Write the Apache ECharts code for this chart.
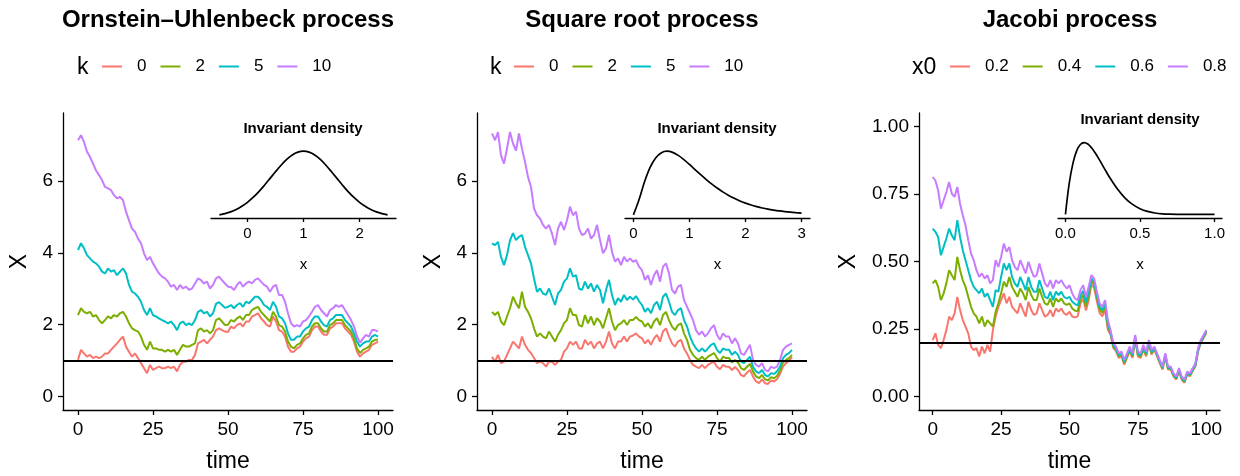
<!DOCTYPE html>
<html>
<head>
<meta charset="utf-8">
<script src="https://cdn.jsdelivr.net/npm/echarts@6/dist/echarts.min.js"></script>
<style>
html, body { margin: 0; padding: 0; background: #fff; }
#chart { width: 1240px; height: 476px; }
</style>
</head>
<body>
<div id="chart"></div>
<script>
// time grid of the simulated paths
var TIME = Array.from({ length: 101 }, function (_, i) { return i; });
var TIME_TICKS = [0, 25, 50, 75, 100];

// Ornstein-Uhlenbeck paths, legend k
var OU_NAMES = ['0', '2', '5', '10'];
var ou0 = [1.02, 1.30, 1.20, 1.11, 1.16, 1.07, 1.11, 1.07, 1.11, 1.20,
  1.20, 1.30, 1.39, 1.48, 1.58, 1.67, 1.39, 1.25, 1.11, 1.20,
  1.07, 0.93, 0.79, 0.65, 0.88, 0.74, 0.79, 0.83, 0.79, 0.79,
  0.83, 0.79, 0.83, 0.70, 0.88, 0.97, 0.97, 1.02, 1.02, 1.16,
  1.48, 1.53, 1.58, 1.48, 1.58, 1.67, 1.85, 1.90, 1.85, 1.81,
  1.80, 1.95, 1.90, 1.99, 2.04, 1.95, 2.09, 2.09, 2.23, 2.27,
  2.32, 2.18, 2.09, 1.99, 1.95, 2.23, 2.09, 1.85, 1.81, 1.67,
  1.39, 1.25, 1.25, 1.34, 1.39, 1.53, 1.62, 1.67, 1.85, 1.95,
  1.95, 1.81, 1.72, 1.72, 1.90, 1.95, 2.04, 2.04, 2.04, 1.90,
  1.81, 1.72, 1.53, 1.25, 1.11, 1.20, 1.25, 1.30, 1.44, 1.48,
  1.53];
var ou2 = [2.27, 2.46, 2.36, 2.32, 2.36, 2.23, 2.27, 2.13, 2.04, 2.13,
  2.23, 2.18, 2.27, 2.23, 2.32, 2.36, 2.23, 2.04, 1.90, 1.85,
  1.81, 1.67, 1.44, 1.30, 1.53, 1.34, 1.34, 1.30, 1.30, 1.25,
  1.30, 1.25, 1.30, 1.16, 1.30, 1.44, 1.39, 1.39, 1.44, 1.48,
  1.85, 1.90, 1.81, 1.85, 1.76, 1.85, 2.13, 2.18, 2.09, 1.99,
  2.00, 2.13, 2.09, 2.18, 2.23, 2.13, 2.27, 2.27, 2.41, 2.46,
  2.50, 2.36, 2.27, 2.18, 2.09, 2.36, 2.23, 1.99, 1.95, 1.81,
  1.53, 1.39, 1.34, 1.44, 1.48, 1.62, 1.72, 1.76, 1.95, 2.04,
  2.04, 1.90, 1.81, 1.81, 1.99, 2.04, 2.13, 2.13, 2.13, 1.99,
  1.90, 1.81, 1.62, 1.34, 1.21, 1.30, 1.34, 1.39, 1.53, 1.58,
  1.58];
var ou5 = [4.08, 4.27, 4.13, 3.94, 3.85, 3.76, 3.71, 3.62, 3.48, 3.43,
  3.57, 3.48, 3.52, 3.38, 3.48, 3.57, 3.43, 3.11, 2.92, 2.87,
  2.78, 2.64, 2.41, 2.27, 2.46, 2.27, 2.23, 2.18, 2.13, 2.09,
  2.04, 2.09, 1.99, 1.85, 2.04, 2.09, 1.99, 2.04, 1.99, 2.13,
  2.36, 2.41, 2.32, 2.36, 2.23, 2.32, 2.58, 2.63, 2.55, 2.47,
  2.50, 2.55, 2.46, 2.55, 2.60, 2.50, 2.64, 2.60, 2.69, 2.78,
  2.78, 2.69, 2.55, 2.50, 2.41, 2.64, 2.50, 2.23, 2.18, 2.04,
  1.76, 1.58, 1.58, 1.67, 1.67, 1.81, 1.90, 1.95, 2.13, 2.23,
  2.23, 2.09, 1.99, 1.95, 2.13, 2.18, 2.27, 2.27, 2.27, 2.13,
  2.04, 1.95, 1.76, 1.53, 1.39, 1.48, 1.53, 1.53, 1.67, 1.72,
  1.67];
var ou10 = [7.14, 7.28, 7.09, 6.82, 6.68, 6.49, 6.30, 6.17, 6.03, 5.84,
  5.80, 5.75, 5.61, 5.52, 5.56, 5.47, 5.15, 4.91, 4.68, 4.59,
  4.40, 4.27, 3.99, 3.80, 3.89, 3.71, 3.57, 3.43, 3.34, 3.29,
  3.20, 3.06, 3.11, 2.97, 3.11, 3.01, 3.06, 2.97, 3.01, 3.15,
  3.29, 3.24, 3.15, 3.20, 3.01, 3.11, 3.29, 3.34, 3.24, 3.15,
  3.06, 3.05, 2.97, 3.11, 3.20, 3.06, 3.15, 3.20, 3.15, 3.25,
  3.29, 3.20, 3.11, 3.06, 2.92, 3.06, 3.11, 2.83, 2.83, 2.64,
  2.32, 2.04, 1.95, 1.99, 1.95, 2.09, 2.13, 2.23, 2.36, 2.50,
  2.55, 2.41, 2.32, 2.23, 2.41, 2.46, 2.55, 2.50, 2.55, 2.41,
  2.27, 2.13, 1.95, 1.68, 1.50, 1.62, 1.72, 1.67, 1.85, 1.85,
  1.81];

// square root paths, legend k
var SQ_NAMES = ['0', '2', '5', '10'];
var sq0 = [1.11, 0.97, 1.16, 0.93, 0.97, 1.16, 1.34, 1.53, 1.44, 1.34,
  1.67, 1.44, 1.30, 1.21, 1.07, 0.93, 0.97, 0.93, 0.83, 0.97,
  0.97, 0.88, 0.97, 1.02, 1.25, 1.34, 1.53, 1.44, 1.53, 1.34,
  1.34, 1.58, 1.44, 1.53, 1.34, 1.48, 1.53, 1.34, 1.53, 1.81,
  1.48, 1.34, 1.53, 1.53, 1.67, 1.53, 1.67, 1.70, 1.76, 1.67,
  1.62, 1.48, 1.58, 1.44, 1.62, 1.72, 1.53, 1.81, 1.90, 1.67,
  1.48, 1.39, 1.53, 1.58, 1.34, 1.20, 1.02, 0.88, 0.83, 0.79,
  0.88, 0.79, 0.88, 0.93, 0.97, 0.83, 0.76, 0.88, 0.83, 0.83,
  0.74, 0.82, 0.74, 0.60, 0.56, 0.67, 0.74, 0.56, 0.42, 0.37,
  0.48, 0.37, 0.35, 0.45, 0.42, 0.48, 0.63, 0.83, 0.93, 1.00,
  1.09];
var sq2 = [2.36, 2.27, 2.36, 2.09, 1.99, 2.23, 2.46, 2.78, 2.60, 2.46,
  2.92, 2.50, 2.36, 2.18, 1.90, 1.67, 1.76, 1.67, 1.62, 1.81,
  1.67, 1.53, 1.72, 1.85, 2.04, 2.13, 2.46, 2.27, 2.27, 1.99,
  1.95, 2.27, 2.04, 2.23, 1.99, 2.18, 2.09, 1.90, 2.18, 2.46,
  2.09, 1.85, 1.99, 2.04, 2.13, 1.99, 2.13, 2.13, 2.22, 2.13,
  2.09, 1.95, 2.04, 1.90, 2.09, 2.18, 1.99, 2.27, 2.36, 2.13,
  1.95, 1.85, 1.99, 2.04, 1.76, 1.58, 1.30, 1.16, 1.07, 1.02,
  1.11, 1.02, 1.11, 1.16, 1.21, 1.07, 0.97, 1.11, 1.07, 1.07,
  0.95, 1.02, 0.95, 0.79, 0.74, 0.83, 0.91, 0.70, 0.56, 0.51,
  0.60, 0.48, 0.45, 0.54, 0.51, 0.57, 0.72, 0.95, 1.02, 1.07,
  1.16];
var sq5 = [4.27, 4.22, 4.31, 3.89, 3.66, 3.94, 4.35, 4.55, 4.36, 4.45,
  4.50, 4.17, 3.94, 3.71, 3.29, 2.92, 3.01, 2.87, 2.83, 3.01,
  2.78, 2.55, 2.87, 2.97, 3.20, 3.29, 3.57, 3.34, 3.38, 3.01,
  2.97, 3.20, 3.01, 3.15, 2.92, 3.11, 2.97, 2.60, 2.97, 3.25,
  2.83, 2.55, 2.74, 2.64, 2.83, 2.69, 2.78, 2.70, 2.80, 2.66,
  2.55, 2.36, 2.46, 2.32, 2.55, 2.64, 2.41, 2.78, 2.87, 2.64,
  2.36, 2.27, 2.41, 2.46, 2.13, 1.95, 1.67, 1.48, 1.34, 1.25,
  1.34, 1.25, 1.34, 1.44, 1.48, 1.30, 1.21, 1.34, 1.30, 1.30,
  1.16, 1.25, 1.16, 0.97, 0.93, 1.02, 1.11, 0.83, 0.70, 0.65,
  0.74, 0.60, 0.56, 0.65, 0.63, 0.70, 0.83, 1.07, 1.16, 1.21,
  1.30];
var sq10 = [7.33, 7.14, 7.37, 6.72, 6.49, 6.91, 7.37, 7.05, 6.85, 7.33,
  6.90, 6.54, 6.12, 5.84, 5.24, 5.05, 4.96, 4.78, 4.68, 4.78,
  4.54, 4.22, 4.68, 4.87, 4.64, 4.91, 5.29, 5.05, 5.15, 4.68,
  4.50, 4.54, 4.68, 4.40, 4.50, 4.78, 4.36, 3.99, 4.13, 4.50,
  4.03, 3.76, 3.85, 3.66, 3.89, 3.76, 3.85, 3.75, 3.80, 3.62,
  3.52, 3.25, 3.38, 3.11, 3.38, 3.52, 3.20, 3.62, 3.71, 3.43,
  2.97, 2.87, 3.06, 3.11, 2.69, 2.50, 2.32, 2.13, 1.85, 1.72,
  1.81, 1.67, 1.76, 1.90, 1.99, 1.72, 1.58, 1.76, 1.67, 1.67,
  1.48, 1.62, 1.48, 1.20, 1.16, 1.30, 1.44, 1.02, 0.88, 0.83,
  0.93, 0.74, 0.70, 0.83, 0.79, 0.83, 1.02, 1.30, 1.39, 1.44,
  1.48];

// Jacobi paths, legend x0
var JAC_NAMES = ['0.2', '0.4', '0.6', '0.8'];
var jac02 = [0.209, 0.234, 0.191, 0.179, 0.209, 0.246, 0.296, 0.283, 0.308, 0.369,
  0.320, 0.283, 0.259, 0.234, 0.185, 0.172, 0.179, 0.148, 0.185, 0.160,
  0.191, 0.166, 0.246, 0.296, 0.332, 0.357, 0.382, 0.345, 0.369, 0.332,
  0.320, 0.308, 0.345, 0.320, 0.296, 0.351, 0.320, 0.302, 0.308, 0.345,
  0.320, 0.296, 0.302, 0.320, 0.296, 0.326, 0.314, 0.326, 0.308, 0.302,
  0.314, 0.296, 0.293, 0.297, 0.344, 0.362, 0.319, 0.356, 0.415, 0.402,
  0.353, 0.310, 0.297, 0.322, 0.248, 0.229, 0.180, 0.168, 0.143, 0.149,
  0.118, 0.143, 0.168, 0.143, 0.211, 0.149, 0.143, 0.174, 0.149, 0.192,
  0.155, 0.174, 0.149, 0.124, 0.100, 0.149, 0.100, 0.100, 0.075, 0.063,
  0.094, 0.063, 0.051, 0.081, 0.075, 0.094, 0.112, 0.168, 0.198, 0.217,
  0.235];
var jac04 = [0.419, 0.431, 0.406, 0.357, 0.382, 0.419, 0.468, 0.449, 0.431, 0.517,
  0.468, 0.431, 0.406, 0.369, 0.332, 0.308, 0.296, 0.271, 0.296, 0.259,
  0.283, 0.271, 0.259, 0.314, 0.345, 0.382, 0.425, 0.406, 0.443, 0.406,
  0.388, 0.369, 0.400, 0.382, 0.357, 0.406, 0.376, 0.357, 0.357, 0.400,
  0.369, 0.345, 0.339, 0.363, 0.332, 0.363, 0.351, 0.363, 0.345, 0.339,
  0.345, 0.326, 0.318, 0.317, 0.359, 0.377, 0.334, 0.371, 0.428, 0.415,
  0.366, 0.323, 0.310, 0.335, 0.261, 0.234, 0.185, 0.173, 0.148, 0.154,
  0.123, 0.148, 0.173, 0.148, 0.216, 0.154, 0.148, 0.179, 0.154, 0.197,
  0.160, 0.177, 0.152, 0.127, 0.103, 0.152, 0.103, 0.103, 0.078, 0.066,
  0.097, 0.066, 0.054, 0.084, 0.078, 0.097, 0.115, 0.171, 0.201, 0.220,
  0.238];
var jac06 = [0.622, 0.610, 0.591, 0.523, 0.554, 0.585, 0.622, 0.597, 0.579, 0.653,
  0.591, 0.542, 0.505, 0.468, 0.431, 0.406, 0.394, 0.382, 0.400, 0.369,
  0.382, 0.357, 0.332, 0.394, 0.388, 0.443, 0.493, 0.468, 0.493, 0.443,
  0.419, 0.406, 0.443, 0.419, 0.394, 0.443, 0.406, 0.388, 0.388, 0.431,
  0.400, 0.369, 0.363, 0.388, 0.357, 0.388, 0.376, 0.388, 0.369, 0.363,
  0.369, 0.351, 0.343, 0.337, 0.374, 0.392, 0.349, 0.386, 0.438, 0.425,
  0.376, 0.333, 0.320, 0.345, 0.271, 0.239, 0.190, 0.178, 0.153, 0.159,
  0.128, 0.153, 0.178, 0.153, 0.221, 0.159, 0.153, 0.184, 0.159, 0.202,
  0.165, 0.180, 0.155, 0.130, 0.106, 0.155, 0.106, 0.106, 0.081, 0.069,
  0.100, 0.069, 0.057, 0.087, 0.081, 0.100, 0.118, 0.174, 0.204, 0.223,
  0.242];
var jac08 = [0.813, 0.800, 0.763, 0.696, 0.727, 0.757, 0.794, 0.751, 0.739, 0.776,
  0.714, 0.671, 0.634, 0.579, 0.530, 0.505, 0.468, 0.443, 0.456, 0.437,
  0.449, 0.419, 0.431, 0.505, 0.480, 0.517, 0.566, 0.536, 0.554, 0.505,
  0.480, 0.468, 0.505, 0.480, 0.456, 0.499, 0.468, 0.443, 0.449, 0.493,
  0.456, 0.419, 0.406, 0.431, 0.400, 0.431, 0.419, 0.431, 0.413, 0.400,
  0.412, 0.382, 0.363, 0.357, 0.394, 0.412, 0.369, 0.406, 0.450, 0.437,
  0.388, 0.345, 0.332, 0.357, 0.283, 0.246, 0.197, 0.185, 0.160, 0.166,
  0.135, 0.160, 0.185, 0.160, 0.228, 0.166, 0.160, 0.191, 0.166, 0.209,
  0.172, 0.185, 0.160, 0.135, 0.111, 0.160, 0.111, 0.111, 0.086, 0.074,
  0.105, 0.074, 0.062, 0.092, 0.086, 0.105, 0.123, 0.179, 0.209, 0.228,
  0.246];

// long-run levels (black lines)
var LEVELS = [1, 1, 0.2];

// invariant densities for the insets (relative heights)
var OU_DX = [-0.5, -0.4, -0.3, -0.2, -0.1, 0, 0.1, 0.2, 0.3, 0.4, 0.5, 0.6, 0.7, 0.8, 0.9, 1.0,
  1.1, 1.2, 1.3, 1.4, 1.5, 1.6, 1.7, 1.8, 1.9, 2.0, 2.1, 2.2, 2.3, 2.4, 2.5];
var OU_DY = [0.034, 0.053, 0.079, 0.115, 0.163, 0.223, 0.297, 0.383, 0.480, 0.583, 0.687, 0.787, 0.874, 0.942, 0.985, 1.000,
  0.985, 0.942, 0.874, 0.787, 0.687, 0.583, 0.480, 0.383, 0.297, 0.223, 0.163, 0.115, 0.079, 0.053, 0.034];
var SQ_DX = [0, 0.1, 0.2, 0.3, 0.4, 0.5, 0.6, 0.7, 0.8, 0.9, 1.0, 1.1, 1.2, 1.3, 1.4, 1.5,
  1.6, 1.7, 1.8, 1.9, 2.0, 2.1, 2.2, 2.3, 2.4, 2.5, 2.6, 2.7, 2.8, 2.9, 3.0];
var SQ_DY = [0, 0.237, 0.523, 0.749, 0.897, 0.977, 1.000, 0.981, 0.934, 0.868, 0.792, 0.711, 0.631, 0.554, 0.482, 0.417,
  0.357, 0.305, 0.259, 0.218, 0.184, 0.154, 0.129, 0.107, 0.089, 0.074, 0.061, 0.050, 0.041, 0.034, 0.028];
var JAC_DX = [0, 0.025, 0.05, 0.075, 0.1, 0.125, 0.15, 0.175, 0.2, 0.225, 0.25, 0.275, 0.3, 0.35,
  0.4, 0.45, 0.5, 0.55, 0.6, 0.65, 0.7, 0.75, 0.8, 0.85, 0.9, 0.95, 1.0];
var JAC_DY = [0, 0.427, 0.711, 0.885, 0.974, 1.000, 0.980, 0.927, 0.854, 0.770, 0.680, 0.590, 0.503, 0.350,
  0.228, 0.140, 0.080, 0.042, 0.020, 0.0085, 0.0031, 0.0009, 0.0002, 0, 0, 0, 0];

var COLORS = ['#F8766D', '#7CAE00', '#00BFC4', '#C77CFF'];
var FONT = '"Liberation Sans", Arial, Helvetica, sans-serif';

function pairs(xs, ys) {
  return xs.map(function (x, i) { return [x, ys[i]]; });
}

var panels = [
  { names: OU_NAMES, paths: [ou0, ou2, ou5, ou10], dx: OU_DX, dy: OU_DY,
    yMin: -0.376, yMax: 7.9, yTicks: [0, 2, 4, 6], dMin: -0.65, dMax: 2.65, dTicks: [0, 1, 2], dec: 0, ddec: 0, nameGap: 32 },
  { names: SQ_NAMES, paths: [sq0, sq2, sq5, sq10], dx: SQ_DX, dy: SQ_DY,
    yMin: -0.376, yMax: 7.9, yTicks: [0, 2, 4, 6], dMin: -0.15, dMax: 3.15, dTicks: [0, 1, 2, 3], dec: 0, ddec: 0, nameGap: 32 },
  { names: JAC_NAMES, paths: [jac02, jac04, jac06, jac08], dx: JAC_DX, dy: JAC_DY,
    yMin: -0.05, yMax: 1.05, yTicks: [0, 0.25, 0.5, 0.75, 1], dMin: -0.05, dMax: 1.05, dTicks: [0, 0.5, 1], dec: 2, ddec: 1, nameGap: 59 }
];

var mainGrids = [
  { left: 63, top: 113, width: 330, height: 297 },
  { left: 477, top: 113, width: 330, height: 297 },
  { left: 919, top: 113, width: 301, height: 297 }
];
var insetGrids = [
  { left: 211, top: 148, width: 185, height: 70 },
  { left: 625, top: 148, width: 185, height: 70 },
  { left: 1058, top: 139, width: 164, height: 79 }
];

var grid = [], xAxis = [], yAxis = [], series = [];

panels.forEach(function (p, k) {
  grid.push(Object.assign({ outerBoundsMode: 'none', containLabel: false }, mainGrids[k]));
  xAxis.push({
    type: 'value', gridIndex: k, min: -5, max: 105,
    name: 'time', nameLocation: 'middle', nameGap: 40,
    nameTextStyle: { fontSize: 23, color: '#000', fontFamily: FONT },
    axisLine: { show: true, onZero: false, lineStyle: { color: '#000', width: 1.3 } },
    axisTick: { show: true, length: 5, customValues: TIME_TICKS, lineStyle: { color: '#000', width: 1.3 } },
    axisLabel: { customValues: TIME_TICKS, margin: 10, fontSize: 19, color: '#000', fontFamily: FONT },
    splitLine: { show: false }
  });
  yAxis.push({
    type: 'value', gridIndex: k, min: p.yMin, max: p.yMax,
    name: 'X', nameLocation: 'middle', nameGap: p.nameGap, nameRotate: 90,
    nameTextStyle: { fontSize: 23, color: '#000', fontFamily: FONT },
    axisLine: { show: true, onZero: false, lineStyle: { color: '#000', width: 1.3 } },
    axisTick: { show: true, length: 5, customValues: p.yTicks, lineStyle: { color: '#000', width: 1.3 } },
    axisLabel: {
      customValues: p.yTicks, margin: 10, fontSize: 19, color: '#000', fontFamily: FONT,
      formatter: (function (d) { return function (v) { return v.toFixed(d); }; })(p.dec)
    },
    splitLine: { show: false }
  });

  p.paths.forEach(function (ys, j) {
    var s = {
      name: p.names[j], type: 'line', xAxisIndex: k, yAxisIndex: k,
      data: pairs(TIME, ys), showSymbol: false, symbol: 'none',
      color: COLORS[j], lineStyle: { color: COLORS[j], width: 2 },
      emphasis: { disabled: true }, silent: true, z: 2
    };
    if (j === 3) {
      s.markLine = {
        silent: true, symbol: 'none', label: { show: false },
        lineStyle: { color: '#000', width: 1.9, type: 'solid' },
        data: [{ yAxis: LEVELS[k] }]
      };
    }
    series.push(s);
  });
});

panels.forEach(function (p, k) {
  var gi = 3 + k;
  grid.push(Object.assign({ outerBoundsMode: 'none', containLabel: false }, insetGrids[k]));
  xAxis.push({
    type: 'value', gridIndex: gi, min: p.dMin, max: p.dMax,
    name: 'x', nameLocation: 'middle', nameGap: 39,
    nameTextStyle: { fontSize: 15, color: '#000', fontFamily: FONT },
    axisLine: { show: true, onZero: false, lineStyle: { color: '#000', width: 1.3 } },
    axisTick: { show: true, length: 4, customValues: p.dTicks, lineStyle: { color: '#000', width: 1.3 } },
    axisLabel: {
      customValues: p.dTicks, margin: 8, fontSize: 15, color: '#000', fontFamily: FONT,
      formatter: (function (d) { return function (v) { return v.toFixed(d); }; })(p.ddec)
    },
    splitLine: { show: false }
  });
  yAxis.push({
    type: 'value', gridIndex: gi, show: false,
    min: function (v) { return v.min - 0.05 * (v.max - v.min); },
    max: function (v) { return v.max + 0.05 * (v.max - v.min); },
    splitLine: { show: false }
  });
  series.push({
    name: 'density' + k, type: 'line', xAxisIndex: gi, yAxisIndex: gi,
    data: pairs(p.dx, p.dy), showSymbol: false, symbol: 'none', smooth: 0.35,
    color: '#000', lineStyle: { color: '#000', width: 1.7 },
    emphasis: { disabled: true }, silent: true
  });
});

var legendBase = {
  icon: 'rect', itemWidth: 20, itemHeight: 2, itemGap: 14, top: 58, padding: 0,
  selectedMode: false,
  textStyle: { fontSize: 17, color: '#000', fontFamily: FONT, padding: [0, 0, 0, 10] }
};

var option = {
  animation: false,
  backgroundColor: '#fff',
  title: [
    { text: 'Ornstein\u2013Uhlenbeck process', left: 228, top: 8, textAlign: 'center', padding: 0,
      textStyle: { fontSize: 24, fontWeight: 'bold', color: '#000', fontFamily: FONT } },
    { text: 'Square root process', left: 642, top: 8, textAlign: 'center', padding: 0,
      textStyle: { fontSize: 24, fontWeight: 'bold', color: '#000', fontFamily: FONT } },
    { text: 'Jacobi process', left: 1070, top: 8, textAlign: 'center', padding: 0,
      textStyle: { fontSize: 24, fontWeight: 'bold', color: '#000', fontFamily: FONT } },
    { text: 'Invariant density', left: 303, top: 121, textAlign: 'center', padding: 0,
      textStyle: { fontSize: 15, fontWeight: 'bold', color: '#000', fontFamily: FONT } },
    { text: 'Invariant density', left: 717, top: 121, textAlign: 'center', padding: 0,
      textStyle: { fontSize: 15, fontWeight: 'bold', color: '#000', fontFamily: FONT } },
    { text: 'Invariant density', left: 1140, top: 112, textAlign: 'center', padding: 0,
      textStyle: { fontSize: 15, fontWeight: 'bold', color: '#000', fontFamily: FONT } }
  ],
  legend: [
    Object.assign({}, legendBase, { data: OU_NAMES, left: 102 }),
    Object.assign({}, legendBase, { data: SQ_NAMES, left: 514 }),
    Object.assign({}, legendBase, { data: JAC_NAMES, left: 950 })
  ],
  graphic: [
    { type: 'text', left: 77, top: 56, style: { text: 'k', fontSize: 23, fill: '#000', fontFamily: FONT } },
    { type: 'text', left: 490, top: 56, style: { text: 'k', fontSize: 23, fill: '#000', fontFamily: FONT } },
    { type: 'text', left: 912, top: 56, style: { text: 'x0', fontSize: 23, fill: '#000', fontFamily: FONT } }
  ],
  grid: grid,
  xAxis: xAxis,
  yAxis: yAxis,
  series: series
};

var chart = echarts.init(document.getElementById('chart'), null, { renderer: 'canvas' });
chart.setOption(option);
window.addEventListener('resize', function () { chart.resize(); });
</script>
</body>
</html>
